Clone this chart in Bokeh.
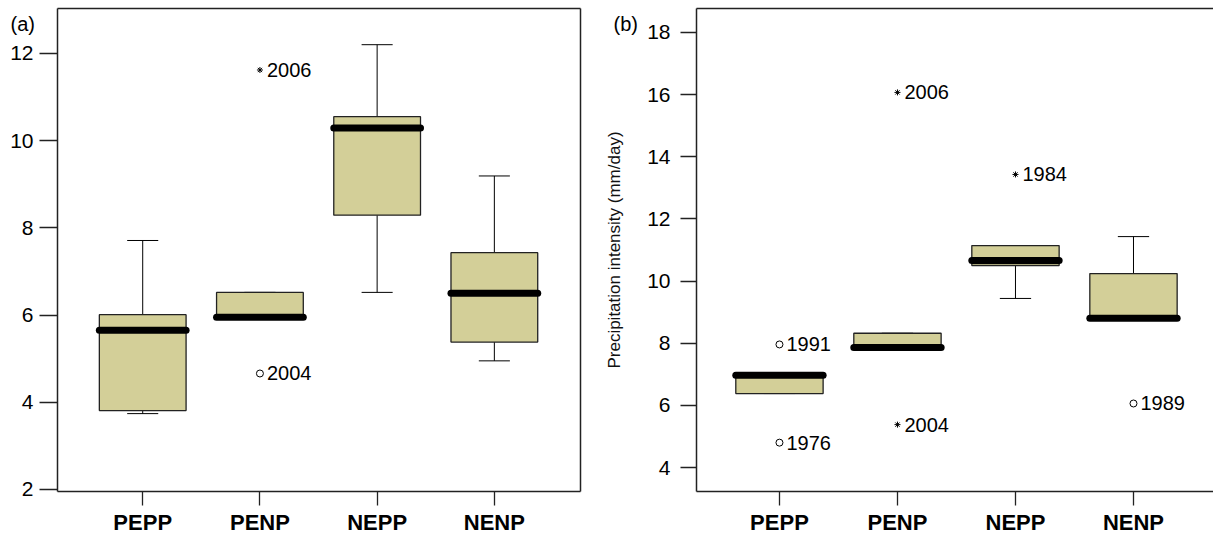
from bokeh.plotting import figure
from bokeh.layouts import row
from bokeh.models import FixedTicker, Range1d, LinearAxis, Label, ColumnDataSource
from bokeh.embed import file_html
from bokeh.resources import INLINE
from bokeh.core.properties import value

# ---------------- data ----------------
categories = ["PEPP", "PENP", "NEPP", "NENP"]

# panel (a)
a_low = [3.74, 5.95, 6.52, 4.95]
a_q1 = [3.81, 5.95, 8.29, 5.38]
a_med = [5.65, 5.95, 10.29, 6.50]
a_q3 = [6.01, 6.52, 10.55, 7.43]
a_high = [7.71, 6.52, 12.20, 9.19]
a_out_cat = ["PENP", "PENP"]
a_out_val = [11.62, 4.66]
a_out_kind = ["star", "circle"]
a_out_year = ["2006", "2004"]
a_yticks = [2, 4, 6, 8, 10, 12]

# panel (b)
b_low = [6.38, 7.86, 9.44, 8.80]
b_q1 = [6.38, 7.86, 10.50, 8.80]
b_med = [6.97, 7.86, 10.66, 8.80]
b_q3 = [6.98, 8.32, 11.14, 10.24]
b_high = [6.98, 8.32, 11.14, 11.43]
b_out_cat = ["PEPP", "PEPP", "PENP", "PENP", "NEPP", "NENP"]
b_out_val = [7.96, 4.80, 16.07, 5.38, 13.43, 6.06]
b_out_kind = ["circle", "circle", "star", "star", "star", "circle"]
b_out_year = ["1991", "1976", "2006", "2004", "1984", "1989"]
b_yticks = [4, 6, 8, 10, 12, 14, 16, 18]

FONT = "Liberation Sans"
BOX_FILL = "#D3CF98"
EDGE = "#222222"
HEIGHT = 533
TOP_PX = 8       # space above the plot box
BOTTOM_PX = 42   # space below the plot box (category labels)


def bare_axis(**kw):
    return LinearAxis(ticker=FixedTicker(ticks=[]), major_tick_out=0, major_tick_in=0,
                      minor_tick_out=0, minor_tick_in=0, major_label_text_font_size="0px",
                      axis_line_color=EDGE, axis_line_width=1.5, major_label_standoff=0, **kw)


def make_panel(tag, low, q1, med, q3, high, out_cat, out_val, out_kind, out_year,
               yticks, xbox, ybox, width, left_px, right_px, tick_out,
               label_standoff, ylabel=None, right_edge=True, tag_dx=10):
    pos = [i + 1 for i in range(len(categories))]
    cpos = {c: i + 1 for i, c in enumerate(categories)}
    # the frame covers the whole canvas; the visible box is drawn by axes with bounds
    kx = (width - left_px - right_px) / (xbox[1] - xbox[0])
    ky = (HEIGHT - TOP_PX - BOTTOM_PX) / (ybox[1] - ybox[0])
    xr = (xbox[0] - left_px / kx, xbox[1] + right_px / kx)
    yr = (ybox[0] - BOTTOM_PX / ky, ybox[1] + TOP_PX / ky)
    p = figure(width=width, height=HEIGHT, output_backend="svg", toolbar_location=None,
               x_range=Range1d(*xr), y_range=Range1d(*yr),
               min_border_left=0, min_border_right=0, min_border_top=0, min_border_bottom=0)
    p.grid.visible = False
    p.background_fill_color = "white"
    p.outline_line_color = None

    box_w = 0.74
    cap_w = 0.265
    src = ColumnDataSource(dict(x=pos, low=low, q1=q1, med=med, q3=q3, high=high,
                                xl=[v - box_w / 2 for v in pos],
                                xr=[v + box_w / 2 for v in pos],
                                cl=[v - cap_w / 2 for v in pos],
                                cr=[v + cap_w / 2 for v in pos]))
    # whiskers
    p.segment(x0="x", y0="q3", x1="x", y1="high", source=src, line_color="black", line_width=1)
    p.segment(x0="x", y0="low", x1="x", y1="q1", source=src, line_color="black", line_width=1)
    p.segment(x0="cl", y0="high", x1="cr", y1="high", source=src, line_color="black", line_width=1)
    p.segment(x0="cl", y0="low", x1="cr", y1="low", source=src, line_color="black", line_width=1)
    # boxes
    p.vbar(x="x", width=box_w, bottom="q1", top="q3", source=src,
           fill_color=BOX_FILL, line_color=EDGE, line_width=1.3)
    # medians
    p.segment(x0="xl", y0="med", x1="xr", y1="med", source=src, line_color="black",
              line_width=7, line_cap="round")

    # outliers
    ox = [cpos[c] for c in out_cat]
    osrc = ColumnDataSource(dict(x=ox, y=out_val, kind=out_kind, year=out_year))
    cx = [x for x, kk in zip(ox, out_kind) if kk == "circle"]
    cy = [y for y, kk in zip(out_val, out_kind) if kk == "circle"]
    sx = [x for x, kk in zip(ox, out_kind) if kk == "star"]
    sy = [y for y, kk in zip(out_val, out_kind) if kk == "star"]
    p.scatter(cx, cy, marker="circle", size=7, fill_color="white", line_color="black", line_width=1)
    p.scatter(sx, sy, marker="asterisk", size=6, line_color="black", line_width=1)
    p.text(x="x", y="y", text="year", source=osrc, x_offset=7, text_baseline="middle",
           text_align="left", text_font=value(FONT), text_font_size="20px", text_color="black")

    # bottom category axis, at the bottom edge of the box
    xa = p.xaxis[0]
    xa.fixed_location = ybox[0]
    xa.bounds = (xbox[0], xbox[1])
    xa.ticker = FixedTicker(ticks=pos)
    xa.major_label_overrides = {v: c for v, c in zip(pos, categories)}
    xa.major_tick_out = 14
    xa.major_tick_in = 0
    xa.minor_tick_out = 0
    xa.minor_tick_in = 0
    xa.major_label_standoff = 4
    xa.major_label_text_font = FONT
    xa.major_label_text_font_size = "22px"
    xa.major_label_text_font_style = "bold"
    xa.major_label_text_color = "black"
    xa.major_tick_line_color = EDGE
    xa.major_tick_line_width = 1.3
    xa.axis_line_color = EDGE
    xa.axis_line_width = 1.5

    # value axis, at the left edge of the box
    ya = p.yaxis[0]
    ya.fixed_location = xbox[0]
    ya.bounds = (ybox[0], ybox[1])
    ya.ticker = FixedTicker(ticks=yticks)
    ya.major_tick_out = tick_out
    ya.major_tick_in = 0
    ya.minor_tick_out = 0
    ya.minor_tick_in = 0
    ya.major_label_standoff = label_standoff
    ya.major_label_text_font = FONT
    ya.major_label_text_font_size = "21px"
    ya.major_label_text_color = "black"
    ya.major_tick_line_color = EDGE
    ya.major_tick_line_width = 1.3
    ya.axis_line_color = EDGE
    ya.axis_line_width = 1.5
    if ylabel:
        ya.axis_label = ylabel
        ya.axis_label_text_font = FONT
        ya.axis_label_text_font_size = "17px"
        ya.axis_label_text_font_style = "normal"
        ya.axis_label_standoff = 20
        ya.axis_label_text_color = "#111111"

    p.add_layout(bare_axis(bounds=(xbox[0], xbox[1]), fixed_location=ybox[1]), "above")
    if right_edge:
        p.add_layout(bare_axis(bounds=(ybox[0], ybox[1]), fixed_location=xbox[1]), "right")

    p.add_layout(Label(x=xr[0], y=ybox[1], x_offset=tag_dx, y_offset=-4, text=tag,
                       text_font=FONT, text_font_size="20px", text_baseline="top",
                       text_align="left", text_color="black"))
    return p


pa = make_panel("(a)", a_low, a_q1, a_med, a_q3, a_high, a_out_cat, a_out_val, a_out_kind,
                a_out_year, a_yticks, (0.273, 4.735), (1.954, 13.03), 600, 57, 20, 18, 6,
                right_edge=True, tag_dx=10)
pb = make_panel("(b)", b_low, b_q1, b_med, b_q3, b_high, b_out_cat, b_out_val, b_out_kind,
                b_out_year, b_yticks, (0.297, 4.678), (3.228, 18.77), 613, 96, 0, 16, 10,
                ylabel="Precipitation intensity (mm/day)", right_edge=False, tag_dx=13)

layout = row(pa, pb)
open("out.html", "w").write(file_html(layout, INLINE))
